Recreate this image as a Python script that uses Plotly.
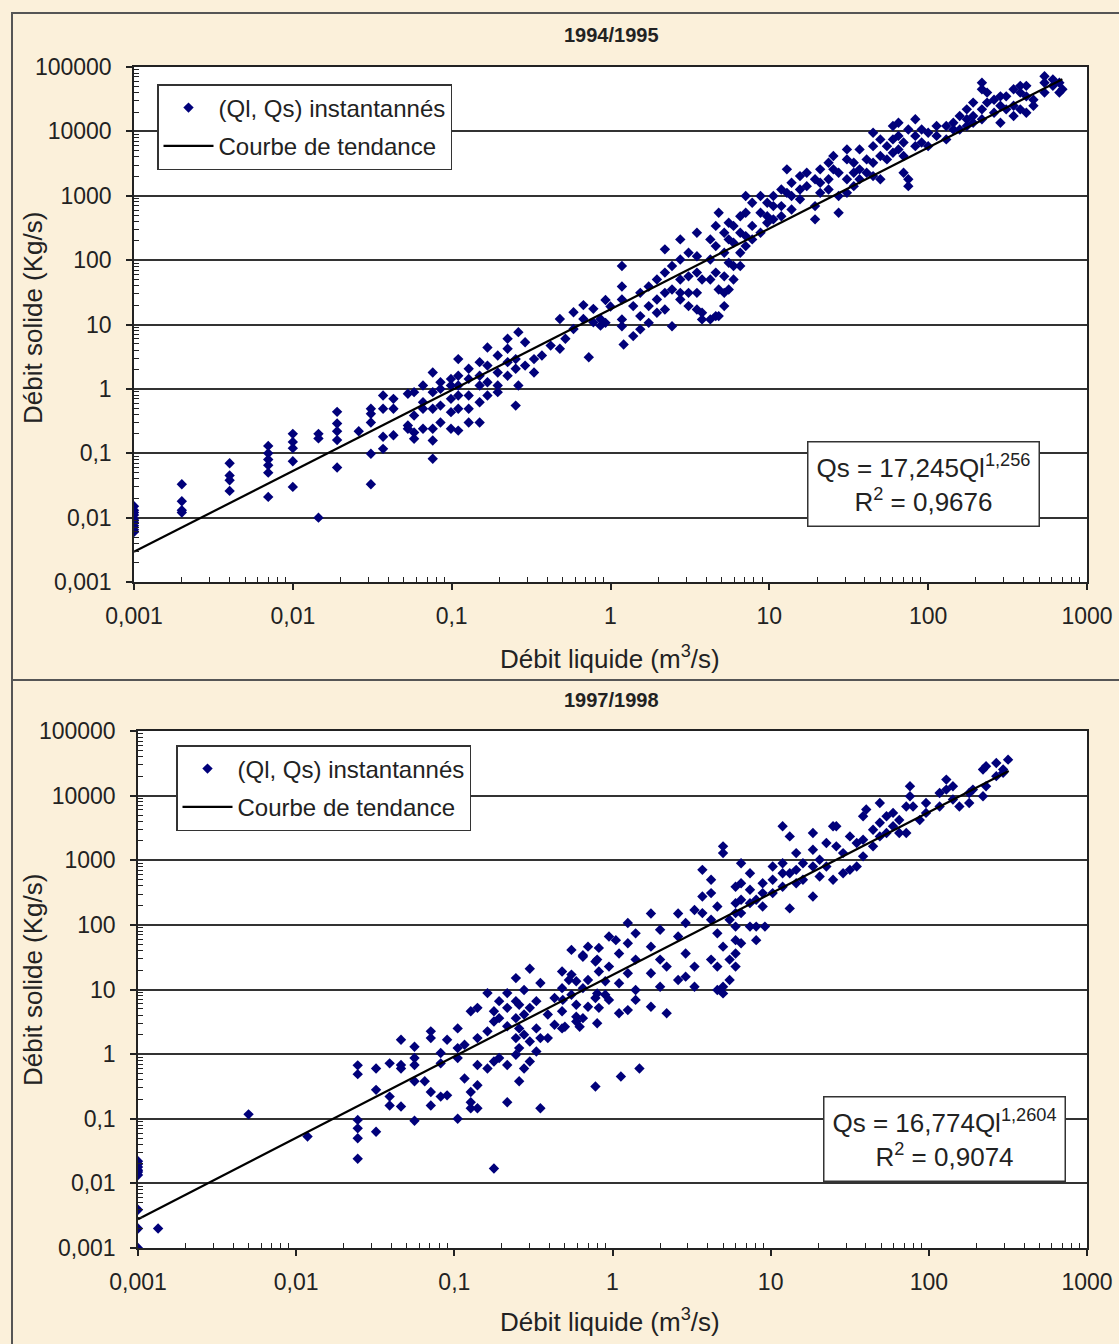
import numpy as np
import plotly.graph_objects as go

W, H = 1119, 1344
FONT = "Liberation Sans, Arial, sans-serif"

# ---------------- 1994/1995 : instantaneous gaugings (Ql m3/s, Qs kg/s) ----------------
ql_9495 = [
    0.001, 0.001, 0.001, 0.001, 0.001, 0.001, 0.001, 0.001, 0.001,
    0.002, 0.002, 0.002, 0.002,
    0.004, 0.004, 0.004, 0.004,
    0.007, 0.007, 0.007, 0.007, 0.007, 0.007,
    0.01, 0.01, 0.01, 0.01, 0.01,
    0.0145, 0.0145, 0.0145,
    0.019, 0.019, 0.019, 0.019, 0.019,
    0.026, 0.031, 0.031, 0.031, 0.031, 0.031,
    0.037, 0.037, 0.037, 0.037, 0.043, 0.043, 0.043,
    0.053, 0.053, 0.053, 0.058, 0.058, 0.058, 0.058,
    0.066, 0.066, 0.066, 0.066, 0.076, 0.076, 0.076, 0.076, 0.076, 0.076,
    0.085, 0.085, 0.085, 0.085, 0.099, 0.099, 0.099, 0.099, 0.099,
    0.11, 0.11, 0.11, 0.11, 0.11, 0.11, 0.128, 0.128, 0.128, 0.128, 0.128,
    0.15, 0.15, 0.15, 0.15, 0.15, 0.168, 0.168, 0.168, 0.168,
    0.195, 0.195, 0.195, 0.195, 0.225, 0.225, 0.225, 0.225,
    0.253, 0.253, 0.253, 0.263, 0.263, 0.29, 0.29,
    0.33, 0.33, 0.37, 0.42, 0.48, 0.48, 0.52,
    0.585, 0.585, 0.675, 0.675, 0.73, 0.78, 0.78,
    0.865, 0.865, 0.93, 0.93, 1.0,
    1.18, 1.18, 1.18, 1.18, 1.18, 1.21,
    1.39, 1.39, 1.54, 1.54, 1.54,
    1.74, 1.74, 1.74, 1.96, 1.96, 1.96,
    2.2, 2.2, 2.2, 2.2, 2.44, 2.44, 2.44,
    2.75, 2.75, 2.75, 2.75, 2.75, 3.1, 3.1, 3.1, 3.1,
    3.5, 3.5, 3.5, 3.5, 3.5, 3.77, 3.77, 3.77,
    4.25, 4.25, 4.25, 4.25, 4.6, 4.6, 4.6, 4.6,
    4.8, 4.8, 4.8, 5.2, 5.2, 5.2, 5.2, 5.2,
    5.55, 5.55, 5.55, 5.55, 5.95, 5.95, 5.95, 5.95,
    6.56, 6.56, 6.56, 6.56, 7.1, 7.1, 7.1, 7.1,
    7.8, 7.8, 7.8, 8.8, 8.8, 8.8, 9.7, 9.7, 9.7,
    10.6, 10.6, 10.6, 11.9, 11.9, 11.9, 12.9, 12.9,
    13.8, 13.8, 13.8, 15.6, 15.6, 15.6, 17.2, 17.2,
    19.4, 19.4, 19.4, 20.9, 20.9, 20.9, 23.6, 23.6, 23.6,
    25.3, 25.3, 27.3, 27.3, 27.3, 30.8, 30.8, 30.8, 30.8,
    34, 34, 34, 37, 37, 37, 41, 41,
    45, 45, 45, 45, 50, 50, 50, 55, 55,
    60, 60, 60, 65, 65, 65, 70, 70, 70,
    75, 75, 75, 83, 83, 83, 91, 91,
    100, 100, 113, 113, 130, 130, 144, 144,
    158, 158, 175, 175, 175, 192, 192, 192,
    218, 218, 218, 218, 235, 235, 260, 260,
    285, 285, 285, 310, 310, 345, 345, 345,
    380, 380, 380, 415, 415, 415, 460, 460,
    540, 540, 540, 610, 610, 670, 670, 700,
]
qs_9495 = [
    0.015, 0.013, 0.012, 0.011, 0.0095, 0.0085, 0.0075, 0.0065, 0.006,
    0.033, 0.018, 0.013, 0.012,
    0.07, 0.045, 0.038, 0.026,
    0.13, 0.1, 0.08, 0.065, 0.05, 0.021,
    0.2, 0.15, 0.12, 0.075, 0.03,
    0.2, 0.17, 0.01,
    0.44, 0.29, 0.22, 0.16, 0.06,
    0.22, 0.49, 0.41, 0.3, 0.098, 0.033,
    0.79, 0.49, 0.18, 0.117, 0.7, 0.49, 0.19,
    0.84, 0.27, 0.24, 0.89, 0.385, 0.21, 0.168,
    1.13, 0.62, 0.49, 0.24, 1.8, 0.89, 0.49, 0.24, 0.158, 0.082,
    1.27, 1.0, 0.55, 0.3, 1.43, 1.13, 0.7, 0.435, 0.24,
    2.9, 1.6, 1.13, 0.79, 0.49, 0.225, 2.05, 1.43, 0.79, 0.49, 0.3,
    2.6, 1.6, 1.13, 0.62, 0.3, 4.4, 2.3, 1.27, 0.79,
    3.3, 1.8, 1.13, 0.89, 6.0, 4.2, 2.6, 1.6,
    2.9, 2.05, 0.55, 7.6, 1.13, 5.3, 2.3,
    2.9, 1.8, 3.3, 4.7, 12.2, 4.2, 6.0,
    15.5, 8.5, 20, 12.2, 3.1, 17.5, 10.8,
    12.2, 9.6, 24, 10.6, 19,
    81, 39, 24.5, 12, 9.4, 4.9,
    19.3, 6.6, 31, 13.5, 8.4,
    39, 19.3, 10.6, 50, 24.5, 15.2,
    147, 64, 31, 17.1, 81, 35, 9.4,
    210, 102, 50, 31, 24.5, 130, 56, 31, 19.3,
    266, 115, 64, 31, 17.1, 50, 15.2, 12,
    210, 102, 50, 12, 340, 165, 64, 13.5,
    545, 35, 13.5, 266, 130, 56, 31, 19.3,
    380, 210, 91, 35, 340, 186, 81, 50,
    480, 266, 130, 81, 990, 545, 236, 165,
    780, 340, 210, 990, 545, 266, 780, 480, 380,
    990, 690, 430, 1250, 690, 480, 2570, 1110,
    1590, 990, 610, 2020, 1250, 880, 2280, 1410,
    1800, 690, 430, 2570, 1590, 1110, 3260, 1800, 1250,
    4140, 2570, 2280, 990, 545, 5250, 3670, 1800, 1110,
    3260, 2280, 1410, 5250, 2570, 1800, 3670, 2280,
    9500, 5900, 3260, 2020, 7500, 4140, 1800, 5900, 3670,
    12100, 7500, 4660, 13600, 8500, 5250, 6700, 4140, 2280,
    10700, 1800, 1410, 15400, 8500, 5900, 10700, 6700,
    9500, 5900, 12100, 8500, 12100, 7500, 13600, 10700,
    17300, 10700, 22000, 15400, 12100, 28000, 17300, 13600,
    57000, 45000, 22000, 15400, 40000, 28000, 31000, 19500,
    35000, 25000, 13600, 35000, 22000, 45000, 25000, 17300,
    51000, 40000, 22000, 51000, 35000, 19500, 31000, 25000,
    72000, 57000, 40000, 64000, 51000, 57000, 40000, 45000,
]

# ---------------- 1997/1998 ----------------
ql_9798 = [
    0.001, 0.001, 0.001, 0.001, 0.001, 0.001, 0.001, 0.001, 0.001,
    0.00134, 0.005, 0.0118,
    0.0245, 0.0245, 0.0245, 0.0245, 0.0245, 0.0245,
    0.032, 0.032, 0.032, 0.039, 0.039, 0.039,
    0.046, 0.046, 0.046, 0.046, 0.056, 0.056, 0.056, 0.056, 0.056,
    0.065, 0.071, 0.071, 0.071, 0.071, 0.082, 0.082, 0.082,
    0.09, 0.09, 0.105, 0.105, 0.105, 0.105, 0.116, 0.116,
    0.127, 0.127, 0.127, 0.127, 0.14, 0.14, 0.14, 0.14, 0.14,
    0.162, 0.162, 0.162, 0.178, 0.178, 0.178, 0.178, 0.192, 0.192, 0.192,
    0.216, 0.216, 0.216, 0.216, 0.216, 0.245, 0.245, 0.245, 0.245, 0.245,
    0.257, 0.257, 0.257, 0.257, 0.276, 0.276, 0.276, 0.276,
    0.3, 0.3, 0.3, 0.3, 0.33, 0.33, 0.33, 0.35, 0.35, 0.35,
    0.39, 0.39, 0.43, 0.43, 0.48, 0.48, 0.48, 0.48,
    0.485, 0.5, 0.53, 0.55, 0.55, 0.55, 0.59, 0.59, 0.59, 0.59,
    0.62, 0.65, 0.65, 0.65, 0.65, 0.7, 0.7, 0.7,
    0.78, 0.78, 0.78, 0.8, 0.8, 0.8, 0.82, 0.82, 0.82,
    0.9, 0.9, 0.95, 0.95, 0.95, 1.05,
    1.1, 1.1, 1.1, 1.13, 1.25, 1.25, 1.25, 1.25,
    1.4, 1.4, 1.4, 1.4, 1.48, 1.75, 1.75, 1.75, 1.75,
    2.0, 2.0, 2.0, 2.2, 2.2, 2.6, 2.6, 2.6,
    2.9, 2.9, 2.9, 3.3, 3.3, 3.3, 3.7, 3.7, 3.7,
    4.2, 4.2, 4.2, 4.2, 4.6, 4.6, 4.6, 4.6,
    5.0, 5.0, 5.0, 5.0, 5.0, 5.5, 5.5, 5.5,
    6.0, 6.0, 6.0, 6.0, 6.0, 6.0, 6.0,
    6.5, 6.5, 6.5, 6.5, 6.5, 7.4, 7.4, 7.4, 7.4,
    8.1, 8.1, 8.1, 8.9, 8.9, 8.9, 9.2,
    10.3, 10.3, 10.3, 11.9, 11.9, 11.9, 11.9,
    13.2, 13.2, 13.2, 14.5, 14.5, 14.5, 16, 16,
    18.5, 18.5, 18.5, 18.5, 20.4, 20.4, 22.5, 22.5,
    24.8, 24.8, 26, 26, 28.7, 28.7, 31.7, 31.7,
    35, 35, 38.4, 38.4, 38.4, 40.2, 44.4, 44.4,
    49, 49, 49, 54, 54, 59.4, 59.4,
    65, 65, 72, 72, 76, 76, 79.5, 87.6,
    96, 96, 117, 117, 129, 129, 142, 142,
    156, 180, 180, 190, 220, 220,
    230, 230, 267, 267, 295, 295, 317,
]
qs_9798 = [
    0.022, 0.02, 0.018, 0.016, 0.015, 0.0135, 0.0039, 0.002, 0.001,
    0.002, 0.117, 0.053,
    0.67, 0.49, 0.096, 0.071, 0.05, 0.024,
    0.6, 0.28, 0.063, 0.72, 0.22, 0.16,
    1.67, 0.68, 0.6, 0.155, 1.3, 0.87, 0.68, 0.38, 0.093,
    0.38, 2.25, 1.77, 0.26, 0.16, 1.04, 0.72, 0.22,
    1.67, 0.23, 2.5, 1.24, 0.87, 0.1, 1.4, 0.42,
    4.6, 0.26, 0.18, 0.145, 5.2, 1.77, 0.68, 0.33, 0.145,
    8.8, 2.25, 0.6, 4.6, 3.2, 0.77, 0.017, 6.6, 3.6, 0.87,
    8.8, 5.2, 2.7, 0.68, 0.18, 15, 6.6, 3.6, 1.77, 0.98,
    5.8, 2.5, 1.24, 0.38, 9.8, 4.1, 2.0, 0.6,
    21, 5.2, 1.57, 0.77, 6.6, 2.5, 1.1, 12.6, 1.77, 0.145,
    4.1, 1.77, 7.4, 2.85, 19, 10.5, 4.6, 2.5,
    6.9, 2.65, 14, 41, 17, 8.3, 13.4, 5.8, 3.8, 3.2,
    2.65, 34, 32, 10.5, 3.6, 46, 14, 5.4,
    27, 7.4, 0.315, 29, 8.7, 3.0, 44, 19, 5.2,
    13.4, 8.3, 66, 22.6, 6.9, 58,
    36, 12.5, 4.3, 0.45, 107, 52, 17.8, 4.8,
    74, 29, 9.8, 6.9, 0.6, 150, 46, 17.8, 5.4,
    84, 29, 11, 22.6, 4.3, 150, 66, 14,
    107, 36, 15.8, 170, 22.6, 11, 710, 275, 152,
    500, 310, 120, 29, 192, 74, 22.6, 9.8,
    1640, 1290, 46, 11, 8.7, 120, 29, 14,
    390, 217, 152, 94, 58, 36, 22.6,
    900, 440, 245, 152, 52, 630, 350, 217, 94,
    245, 94, 58, 440, 310, 192, 94,
    800, 500, 310, 3350, 900, 630, 390,
    2340, 630, 180, 1290, 710, 440, 900, 500,
    2640, 1450, 800, 275, 1020, 560, 1850, 800,
    3350, 500, 3350, 1640, 1290, 630, 2340, 710,
    1850, 800, 4800, 2080, 1150, 6100, 2970, 1640,
    7700, 3800, 2340, 4800, 2640, 5400, 3350,
    4200, 2640, 6800, 2640, 14000, 9800, 6800, 4200,
    7700, 5400, 11000, 6800, 17700, 12400, 14000, 8700,
    6800, 7700, 11000, 12400, 25300, 9800,
    28500, 14000, 32000, 20000, 25300, 22500, 36000,
]

# Power-law trend lines  Qs = a * Ql^b
coef_9495, expo_9495, r2_9495, qlmax_9495 = 17.245, 1.256, 0.9676, 700
coef_9798, expo_9798, r2_9798, qlmax_9798 = 16.774, 1.2604, 0.9074, 320

panel_titles = ["1994/1995", "1997/1998"]
x_tickvals = [0.001, 0.01, 0.1, 1, 10, 100, 1000]
x_ticktext = ["0,001", "0,01", "0,1", "1", "10", "100", "1000"]
y_tickvals = [0.001, 0.01, 0.1, 1, 10, 100, 1000, 10000, 100000]
y_ticktext = ["0,001", "0,01", "0,1", "1", "10", "100", "1000", "10000", "100000"]

minor_x = [m * 10.0 ** e for e in range(-3, 3) for m in range(2, 10)]
minor_y = [m * 10.0 ** e for e in range(-3, 5) for m in range(2, 10)]


def fr(v):
    return str(v).replace(".", ",")


def px_x(p):
    return p / W


def px_y(p):
    return 1 - p / H


fig = go.Figure()

panels = [
    dict(ql=ql_9495, qs=qs_9495, a=coef_9495, b=expo_9495, r2=r2_9495, qmax=qlmax_9495,
         xa="x", ya="y", leg="legend"),
    dict(ql=ql_9798, qs=qs_9798, a=coef_9798, b=expo_9798, r2=r2_9798, qmax=qlmax_9798,
         xa="x2", ya="y2", leg="legend2"),
]

for p in panels:
    fig.add_trace(go.Scatter(
        x=p["ql"], y=p["qs"], mode="markers", name="(Ql, Qs) instantannés",
        marker=dict(symbol="diamond", size=8, color="#00007A", line=dict(width=0)),
        xaxis=p["xa"], yaxis=p["ya"], legend=p["leg"], legendgroup=p["leg"] + "a",
    ))
    xt = np.geomspace(0.001, p["qmax"], 60)
    fig.add_trace(go.Scatter(
        x=xt, y=p["a"] * xt ** p["b"], mode="lines", name="Courbe de tendance",
        line=dict(color="black", width=2.2),
        xaxis=p["xa"], yaxis=p["ya"], legend=p["leg"], legendgroup=p["leg"] + "b",
    ))

axis_common = dict(
    type="log", showline=True, linecolor="#222", linewidth=1.5, mirror=True,
    ticks="outside", ticklen=6, tickwidth=1.5, tickcolor="#222",
    tickmode="array", tickfont=dict(family=FONT, size=23, color="#222"),
    zeroline=False, automargin=False,
)
minor_common = dict(ticks="inside", ticklen=5, tickcolor="#222", tickwidth=1,
                    tickmode="array", showgrid=False)

x_dom_top = [px_x(134), px_x(1087)]
x_dom_bot = [px_x(138), px_x(1087)]
y_dom_top = [px_y(582), px_y(67)]
y_dom_bot = [px_y(1248), px_y(731)]

legend_common = dict(xanchor="left", yanchor="top", bgcolor="white",
                     bordercolor="#333", borderwidth=1.5,
                     font=dict(family=FONT, size=24, color="#222"),
                     tracegroupgap=4, itemwidth=50)

fig.update_layout(
    width=W, height=H,
    margin=dict(l=0, r=0, t=0, b=0, autoexpand=False),
    paper_bgcolor="#FBF0DA",
    plot_bgcolor="white",
    font=dict(family=FONT, color="#222"),
    xaxis=dict(axis_common, domain=x_dom_top, anchor="y", range=[-3, 3],
               tickvals=x_tickvals, ticktext=x_ticktext, showgrid=False,
               ticklabelstandoff=7, minor=dict(minor_common, tickvals=minor_x)),
    yaxis=dict(axis_common, domain=y_dom_top, anchor="x", range=[-3, 5],
               tickvals=y_tickvals, ticktext=y_ticktext,
               showgrid=True, gridcolor="#333", gridwidth=1.6, ticklabelstandoff=10,
               minor=dict(minor_common, tickvals=minor_y)),
    xaxis2=dict(axis_common, domain=x_dom_bot, anchor="y2", range=[-3, 3],
                tickvals=x_tickvals, ticktext=x_ticktext, showgrid=False,
                ticklabelstandoff=7, minor=dict(minor_common, tickvals=minor_x)),
    yaxis2=dict(axis_common, domain=y_dom_bot, anchor="x2", range=[-3, 5],
                tickvals=y_tickvals, ticktext=y_ticktext,
                showgrid=True, gridcolor="#333", gridwidth=1.6, ticklabelstandoff=10,
                minor=dict(minor_common, tickvals=minor_y)),
    legend=dict(legend_common, x=px_x(157), y=px_y(84)),
    legend2=dict(legend_common, x=px_x(176), y=px_y(745)),
    showlegend=True,
)

# Panel frames
fig.add_shape(type="rect", xref="paper", yref="paper",
              x0=px_x(12), x1=1.01, y0=px_y(680), y1=px_y(13),
              line=dict(color="#555", width=2), layer="below")
fig.add_shape(type="rect", xref="paper", yref="paper",
              x0=px_x(12), x1=1.01, y0=-0.01, y1=px_y(680),
              line=dict(color="#555", width=2), layer="below")

ann = []
title_y = [35, 700]
xtitle_y = [657, 1320]
ytitle_y = [318, 980]
eq_pos = [(923, 484), (944, 1139)]
centered = dict(xref="paper", yref="paper", showarrow=False,
                xanchor="center", yanchor="middle")
for i, p in enumerate(panels):
    ann.append(dict(centered, text="<b>" + panel_titles[i] + "</b>",
                    x=px_x(611), y=px_y(title_y[i]),
                    font=dict(family=FONT, size=20, color="#222")))
    ann.append(dict(centered, text="Débit liquide (m<sup>3</sup>/s)",
                    x=px_x(610), y=px_y(xtitle_y[i]),
                    font=dict(family=FONT, size=26, color="#222")))
    ann.append(dict(centered, text="Débit solide (Kg/s)", textangle=-90,
                    x=px_x(33), y=px_y(ytitle_y[i]),
                    font=dict(family=FONT, size=26, color="#222")))
    eq = ("Qs = " + fr(p["a"]) + "Ql<sup>" + fr(p["b"]) + "</sup><br>R<sup>2</sup> = "
          + fr(p["r2"]))
    ann.append(dict(centered, text=eq, x=px_x(eq_pos[i][0]), y=px_y(eq_pos[i][1]),
                    align="center", bgcolor="white", bordercolor="#333",
                    borderwidth=1.5, borderpad=8,
                    font=dict(family=FONT, size=26, color="#222")))
fig.update_layout(annotations=ann)

fig.write_html("out.html")
